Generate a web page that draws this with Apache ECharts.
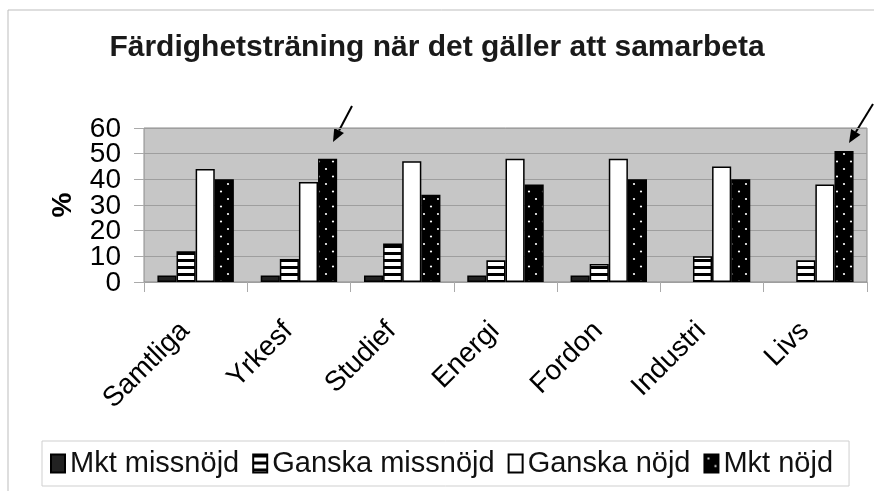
<!DOCTYPE html>
<html>
<head>
<meta charset="utf-8">
<script src="https://cdn.jsdelivr.net/npm/echarts@6/dist/echarts.min.js"></script>
<style>
  html, body { margin: 0; padding: 0; background: #fff; }
  #chart { width: 874px; height: 491px; }
</style>
</head>
<body>
<div id="chart"></div>
<script>
// data
const categories = ["Samtliga", "Yrkesf", "Studief", "Energi", "Fordon", "Industri", "Livs"];
const mktMissnojd = [2.5, 2.5, 2.5, 2.5, 2.5, null, null];
const ganskaMissnojd = [12, 9, 15, 8.5, 7, 10, 8.5];
const ganskaNojd = [44, 39, 47, 48, 48, 45, 38];
const mktNojd = [40, 48, 34, 38, 40, 40, 51];
const seriesNames = ["Mkt missnöjd", "Ganska missnöjd", "Ganska nöjd", "Mkt nöjd"];
const yTicks = [0, 10, 20, 30, 40, 50, 60];

// fill patterns
function stripes() {
  const c = document.createElement("canvas");
  c.width = 8; c.height = 7;
  const g = c.getContext("2d");
  g.fillStyle = "#fff"; g.fillRect(0, 0, 8, 7);
  g.fillStyle = "#000"; g.fillRect(0, 0, 8, 3);
  return { image: c, repeat: "repeat" };
}
function dots() {
  const c = document.createElement("canvas");
  c.width = 14; c.height = 15;
  const g = c.getContext("2d");
  g.fillStyle = "#000"; g.fillRect(0, 0, 14, 15);
  g.fillStyle = "#fff";
  g.beginPath(); g.arc(4, 4, 1.1, 0, Math.PI * 2); g.fill();
  g.beginPath(); g.arc(11, 11.5, 1.1, 0, Math.PI * 2); g.fill();
  return { image: c, repeat: "repeat" };
}

// arrows (annotations)
function arrow(x1, y1, x2, y2) {
  const a = Math.atan2(y2 - y1, x2 - x1);
  const len = 13, w = 5.5;
  const bx = x2 - len * Math.cos(a), by = y2 - len * Math.sin(a);
  const px = -Math.sin(a) * w, py = Math.cos(a) * w;
  return [
    { type: "line", shape: { x1: x1, y1: y1, x2: bx, y2: by }, style: { stroke: "#000", lineWidth: 2 } },
    { type: "polygon", shape: { points: [[x2, y2], [bx + px, by + py], [bx - px, by - py]] }, style: { fill: "#000" } }
  ];
}

let chart = echarts.init(document.getElementById("chart"));
const barBorder = { borderColor: "#000", borderWidth: 1.5 };
const fontFamily = "Liberation Sans, Arial, sans-serif";

const baseGraphic = [
  { type: "rect", shape: { x: 8, y: 10, width: 900, height: 500 }, style: { fill: "none", stroke: "#bdbdbd", lineWidth: 1 }, z: -10 }
].concat(arrow(352, 106, 333, 142), arrow(873, 104, 849, 143));

chart.setOption({
  animation: false,
  textStyle: { fontFamily: fontFamily },
  title: {
    text: "Färdighetsträning när det gäller att samarbeta",
    left: "center",
    top: 28,
    textStyle: { fontSize: 30, fontWeight: "bold", color: "#1a1a1a" }
  },
  graphic: baseGraphic,
  grid: {
    left: 144, right: 7, top: 128, bottom: 209,
    show: true, backgroundColor: "#c6c6c6", borderColor: "#8a8a8a", borderWidth: 1
  },
  legend: {
    data: seriesNames,
    left: 42, top: 441,
    padding: [8, 16, 8, 8],
    borderColor: "#cfcfcf", borderWidth: 1,
    icon: "rect", itemWidth: 14, itemHeight: 18, itemGap: 13,
    textStyle: { fontSize: 29, color: "#111" }
  },
  xAxis: {
    type: "category",
    data: categories,
    axisLine: { show: false },
    axisTick: { show: true, length: 10, lineStyle: { color: "#aaa" } },
    axisLabel: { rotate: 45, margin: 34, fontSize: 28, color: "#000", padding: [0, 15, 0, 0] }
  },
  yAxis: {
    type: "value",
    min: 0, max: 60, interval: 10,
    name: "%",
    nameLocation: "middle",
    nameGap: 67,
    nameTextStyle: { fontSize: 28, fontWeight: "bold", color: "#000" },
    axisLine: { show: false },
    axisTick: { show: true, length: 10, lineStyle: { color: "#aaa" } },
    // labels are large and tightly packed, so they are placed below from the axis scale
    axisLabel: { show: false },
    splitLine: { lineStyle: { color: "#9e9e9e" } }
  },
  series: [
    { name: seriesNames[0], type: "bar", data: mktMissnojd, barGap: "0%", barCategoryGap: "26%",
      itemStyle: Object.assign({ color: "#222" }, barBorder) },
    { name: seriesNames[1], type: "bar", data: ganskaMissnojd,
      itemStyle: Object.assign({ color: stripes() }, barBorder) },
    { name: seriesNames[2], type: "bar", data: ganskaNojd,
      itemStyle: Object.assign({ color: "#fff" }, barBorder) },
    { name: seriesNames[3], type: "bar", data: mktNojd,
      itemStyle: Object.assign({ color: dots() }, barBorder) }
  ]
});

// y tick labels positioned with the library's own scale
const tickLabels = yTicks.map(v => {
  const y = chart.convertToPixel({ yAxisIndex: 0 }, v);
  return {
    type: "text",
    x: 121, y: y + 1,
    style: { text: String(v), fontSize: 28, fontFamily: fontFamily, fill: "#000", align: "right", verticalAlign: "middle" }
  };
});
chart.setOption({ graphic: baseGraphic.concat(tickLabels) });

window.addEventListener("resize", () => {
  chart.resize();
});
</script>
</body>
</html>
